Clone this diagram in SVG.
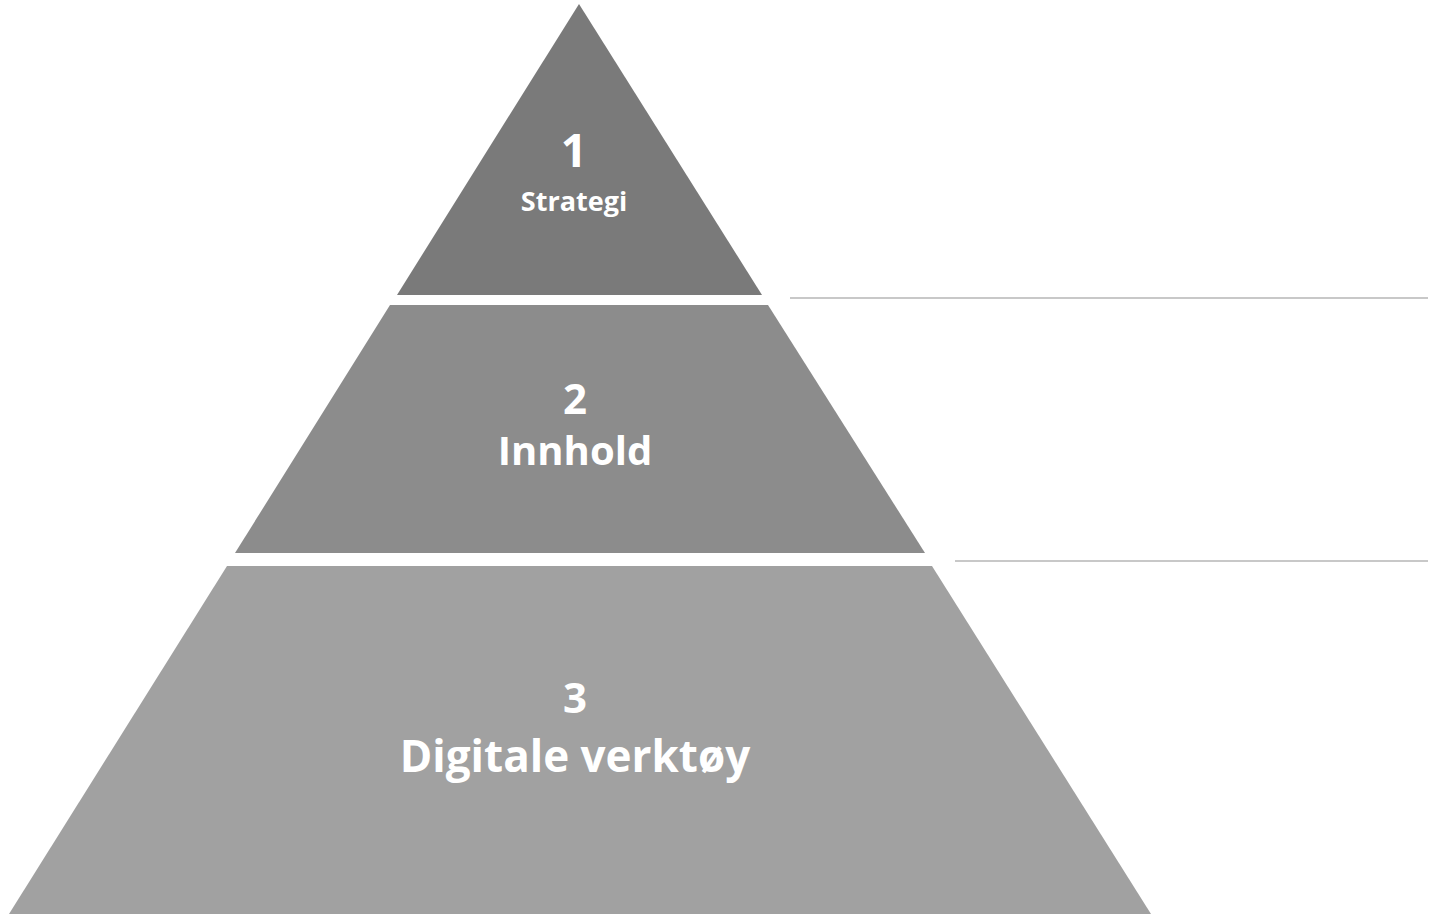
<svg xmlns="http://www.w3.org/2000/svg" width="1432" height="916" viewBox="0 0 1432 916">
<style>
text{font-family:"Open Sans","Noto Sans",sans-serif;font-weight:bold;fill:#fff;text-anchor:middle}
.l{stroke:#c8c8c8;stroke-width:2}
</style>
<rect width="1432" height="916" fill="#fff"/>
<g id="tier1"><polygon points="579,4 762,295 397,295" fill="#7a7a7a"/>
<text x="574" y="167" font-size="46">1</text><text x="574" y="211" font-size="27">Strategi</text></g>
<g id="tier2"><polygon points="390,305 768,305 925,553 235,553" fill="#8c8c8c"/>
<text x="575" y="414" font-size="42">2</text><text x="575" y="465" font-size="40">Innhold</text></g>
<g id="tier3"><polygon points="227,566 932,566 1151,914 9,914" fill="#a1a1a1"/>
<text x="575" y="713" font-size="42">3</text><text x="575" y="772" font-size="44">Digitale verktøy</text></g>
<g id="connectors"><line class="l" x1="790" y1="298" x2="1428" y2="298"/><line class="l" x1="955" y1="561" x2="1428" y2="561"/></g>
</svg>
